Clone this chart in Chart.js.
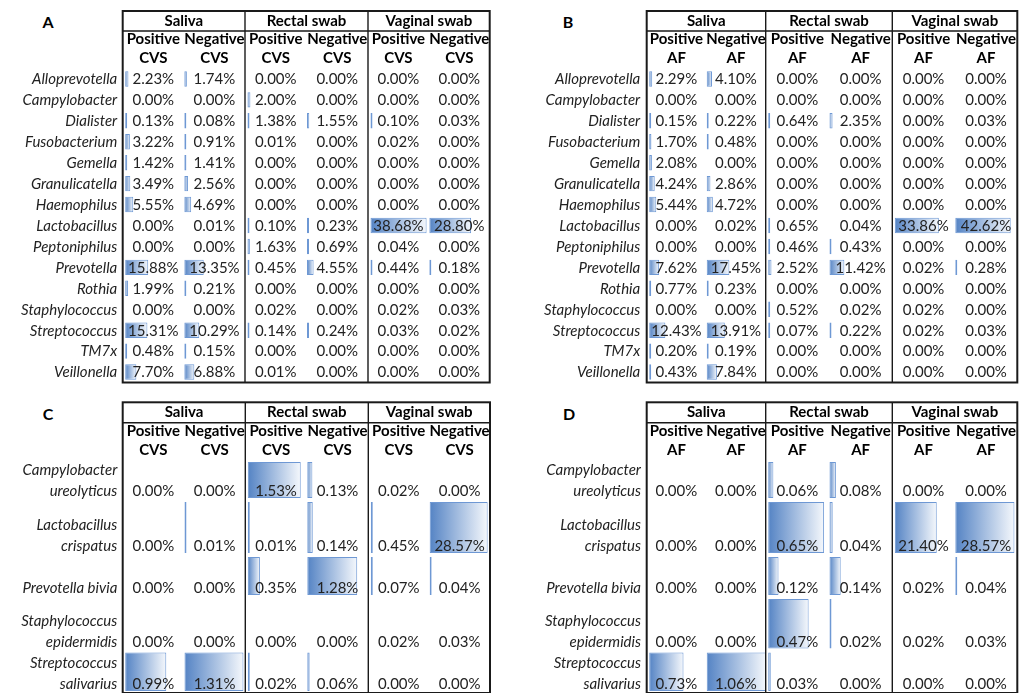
<!DOCTYPE html>
<html>
<head>
<meta charset="utf-8">
<script src="https://cdn.jsdelivr.net/npm/chart.js@4"></script>
<style>
  html, body { margin: 0; padding: 0; background: #fff; }
  body { width: 1021px; height: 693px; position: relative; overflow: hidden; }
  canvas { position: absolute; }
  .tag { position: absolute; font: bold 16px Lato, sans-serif; color: #000; transform: translate(-50%, -50%); }
</style>
</head>
<body>
<div class="tag" style="left:48px;top:21px">A</div>
<div class="tag" style="left:568px;top:21px">B</div>
<div class="tag" style="left:48px;top:413px">C</div>
<div class="tag" style="left:569px;top:413px">D</div>
<canvas id="chartA" width="492" height="386" style="left:0;top:0"></canvas>
<canvas id="chartB" width="521" height="386" style="left:500px;top:0"></canvas>
<canvas id="chartC" width="492" height="303" style="left:0;top:390px"></canvas>
<canvas id="chartD" width="521" height="303" style="left:500px;top:390px"></canvas>
<script>
const groups = ['Saliva', 'Rectal swab', 'Vaginal swab'];
const subgroups = ['Positive', 'Negative'];

const genera = ['Alloprevotella', 'Campylobacter', 'Dialister', 'Fusobacterium', 'Gemella',
  'Granulicatella', 'Haemophilus', 'Lactobacillus', 'Peptoniphilus', 'Prevotella', 'Rothia',
  'Staphylococcus', 'Streptococcus', 'TM7x', 'Veillonella'];
const species = [['Campylobacter', 'ureolyticus'], ['Lactobacillus', 'crispatus'], 'Prevotella bivia',
  ['Staphylococcus', 'epidermidis'], ['Streptococcus', 'salivarius']];

// A - genera, CVS (%)
const salivaPosA  = [2.23, 0.00, 0.13, 3.22, 1.42, 3.49, 5.55, 0.00, 0.00, 15.88, 1.99, 0.00, 15.31, 0.48, 7.70];
const salivaNegA  = [1.74, 0.00, 0.08, 0.91, 1.41, 2.56, 4.69, 0.01, 0.00, 13.35, 0.21, 0.00, 10.29, 0.15, 6.88];
const rectalPosA  = [0.00, 2.00, 1.38, 0.01, 0.00, 0.00, 0.00, 0.10, 1.63, 0.45, 0.00, 0.02, 0.14, 0.00, 0.01];
const rectalNegA  = [0.00, 0.00, 1.55, 0.00, 0.00, 0.00, 0.00, 0.23, 0.69, 4.55, 0.00, 0.00, 0.24, 0.00, 0.00];
const vaginalPosA = [0.00, 0.00, 0.10, 0.02, 0.00, 0.00, 0.00, 38.68, 0.04, 0.44, 0.00, 0.02, 0.03, 0.00, 0.00];
const vaginalNegA = [0.00, 0.00, 0.03, 0.00, 0.00, 0.00, 0.00, 28.80, 0.00, 0.18, 0.00, 0.03, 0.02, 0.00, 0.00];

// B - genera, AF (%)
const salivaPosB  = [2.29, 0.00, 0.15, 1.70, 2.08, 4.24, 5.44, 0.00, 0.00, 7.62, 0.77, 0.00, 12.43, 0.20, 0.43];
const salivaNegB  = [4.10, 0.00, 0.22, 0.48, 0.00, 2.86, 4.72, 0.02, 0.00, 17.45, 0.23, 0.00, 13.91, 0.19, 7.84];
const rectalPosB  = [0.00, 0.00, 0.64, 0.00, 0.00, 0.00, 0.00, 0.65, 0.46, 2.52, 0.00, 0.52, 0.07, 0.00, 0.00];
const rectalNegB  = [0.00, 0.00, 2.35, 0.00, 0.00, 0.00, 0.00, 0.04, 0.43, 11.42, 0.00, 0.02, 0.22, 0.00, 0.00];
const vaginalPosB = [0.00, 0.00, 0.00, 0.00, 0.00, 0.00, 0.00, 33.86, 0.00, 0.02, 0.00, 0.02, 0.02, 0.00, 0.00];
const vaginalNegB = [0.00, 0.00, 0.03, 0.00, 0.00, 0.00, 0.00, 42.62, 0.00, 0.28, 0.00, 0.00, 0.03, 0.00, 0.00];

// C - species, CVS (%)
const salivaPosC  = [0.00, 0.00, 0.00, 0.00, 0.99];
const salivaNegC  = [0.00, 0.01, 0.00, 0.00, 1.31];
const rectalPosC  = [1.53, 0.01, 0.35, 0.00, 0.02];
const rectalNegC  = [0.13, 0.14, 1.28, 0.00, 0.06];
const vaginalPosC = [0.02, 0.45, 0.07, 0.02, 0.00];
const vaginalNegC = [0.00, 28.57, 0.04, 0.03, 0.00];

// D - species, AF (%)
const salivaPosD  = [0.00, 0.00, 0.00, 0.00, 0.73];
const salivaNegD  = [0.00, 0.00, 0.00, 0.00, 1.06];
const rectalPosD  = [0.06, 0.65, 0.12, 0.47, 0.03];
const rectalNegD  = [0.08, 0.04, 0.14, 0.02, 0.00];
const vaginalPosD = [0.00, 21.40, 0.02, 0.02, 0.00];
const vaginalNegD = [0.00, 28.57, 0.04, 0.03, 0.00];

Chart.defaults.font.family = 'Lato, sans-serif';
Chart.defaults.color = '#222';

const barBlue = 'rgb(96,140,200)';

// excel-like gradient data bar, from the axis zero to the bar end
function barFill(ctx) {
  const v = ctx.parsed ? ctx.parsed.x : null;
  if (v == null) return barBlue;
  const xs = ctx.chart.scales[ctx.dataset.xAxisID];
  const x0 = xs.getPixelForValue(0);
  const x1 = Math.max(xs.getPixelForValue(v), x0 + 2);
  if (!isFinite(x0) || !isFinite(x1)) return barBlue;
  const g = ctx.chart.ctx.createLinearGradient(x0, 0, x1, 0);
  g.addColorStop(0, 'rgb(84,131,196)');
  g.addColorStop(1, 'rgb(245,248,252)');
  return g;
}

const tablePlugin = {
  id: 'table',
  afterDatasetsDraw(chart, args, opts) {
    const { ctx, scales, chartArea } = chart;
    ctx.save();
    ctx.fillStyle = '#222';
    ctx.textBaseline = 'middle';
    // cell values
    ctx.font = '15px Lato, sans-serif';
    ctx.textAlign = 'center';
    chart.data.datasets.forEach(ds => {
      const xs = scales[ds.xAxisID];
      const ys = scales[ds.yAxisID];
      const x = (xs.left + xs.right) / 2;
      const y = opts.textBottom ? ys.bottom - opts.textBottom : (ys.top + ys.bottom) / 2 + 0.5;
      ctx.fillText(ds.pct.toFixed(2) + '%', x, y);
    });
    // row names
    ctx.font = 'italic 15px Lato, sans-serif';
    ctx.textAlign = 'right';
    Object.values(scales).filter(s => s.axis === 'y').forEach(s => {
      const name = s.getLabels()[0];
      const lines = Array.isArray(name) ? name : [name];
      const yLast = opts.textBottom ? s.bottom - opts.textBottom : (s.top + s.bottom) / 2 + 0.5;
      lines.forEach((t, i) => {
        ctx.fillText(t, chartArea.left - opts.labelPad, yLast - (lines.length - 1 - i) * 21);
      });
    });
    ctx.restore();
  },
  afterDraw(chart) {
    const { ctx, scales, chartArea } = chart;
    const g = [scales.g0, scales.g1, scales.g2];
    const top = g[0].top, mid = g[0].bottom, bottom = chartArea.bottom;
    ctx.save();
    ctx.strokeStyle = '#1a1a1a';
    ctx.lineWidth = 1.4;
    ctx.beginPath();
    ctx.moveTo(chartArea.left, mid); ctx.lineTo(chartArea.right, mid);
    g.slice(1).forEach(s => { ctx.moveTo(s.left, top); ctx.lineTo(s.left, bottom); });
    ctx.stroke();
    ctx.lineWidth = 2;
    ctx.strokeRect(chartArea.left, top, chartArea.right - chartArea.left, bottom - top);
    ctx.restore();
  }
};

function drawPanel(id, rows, cols, tag, lay) {
  const scales = {};
  const datasets = [];

  lay.groupW.forEach((w, gi) => {
    scales['g' + gi] = {
      type: 'linear', axis: 'x', position: 'top', stack: 'groups', stackWeight: w, weight: 100 - gi,
      min: 0, max: 1,
      ticks: { display: false }, grid: { display: false, drawTicks: false }, border: { display: false },
      title: { display: true, text: groups[gi], color: '#000', padding: 0,
        font: { size: 15, weight: 'bold', lineHeight: '20px' } },
      afterFit: s => { s.height = lay.groupH; }
    };
  });

  cols.forEach((vals, c) => {
    const w = lay.groupW[c >> 1] / 2;
    const off = c % 2 ? 0.5 : 2.5;
    const k = lay.k[c];
    scales['c' + c] = {
      type: 'linear', axis: 'x', position: 'top', stack: 'cols', stackWeight: w, weight: 50 - c,
      min: -off / k, max: (w - off) / k,
      ticks: { display: false }, grid: { display: false, drawTicks: false }, border: { display: false },
      title: { display: true, text: [subgroups[c % 2], tag], color: '#000', padding: { top: -1.5, bottom: 0 },
        font: { size: 15, weight: 'bold', lineHeight: '19px' } },
      afterFit: s => { s.height = lay.colH; }
    };
  });

  rows.forEach((name, r) => {
    const h = lay.rowH[r];
    scales['r' + r] = {
      type: 'category', axis: 'y', position: 'left', labels: [name], offset: true,
      stack: 'rows', stackWeight: h, weight: 100 - r,
      grid: { display: false, drawTicks: false }, border: { display: false },
      ticks: { display: false },
      afterFit: s => { s.width = lay.axisW; s.paddingTop = 0; s.paddingBottom = 0; }
    };
    cols.forEach((vals, c) => {
      const v = vals[r];
      datasets.push({
        pct: v,
        data: [v * lay.k[c] >= 0.07 ? v : null],
        xAxisID: 'c' + c,
        yAxisID: 'r' + r,
        grouped: false,
        categoryPercentage: 1,
        barPercentage: (h - lay.inset) / h,
        minBarLength: 2,
        backgroundColor: barFill,
        borderColor: 'rgb(110,152,212)',
        borderWidth: 1,
        borderSkipped: false
      });
    });
  });

  new Chart(document.getElementById(id), {
    type: 'bar',
    data: { datasets },
    options: {
      indexAxis: 'y',
      responsive: false,
      animation: false,
      layout: { padding: lay.padding },
      scales,
      plugins: {
        legend: { display: false },
        tooltip: { enabled: false },
        table: { textBottom: lay.textBottom, labelPad: lay.labelPad }
      }
    },
    plugins: [tablePlugin]
  });
}

const rowsAB = genera.map(() => 20.93);

drawPanel('chartA', genera,
  [salivaPosA, salivaNegA, rectalPosA, rectalNegA, vaginalPosA, vaginalNegA], 'CVS', {
    groupW: [122.3, 123, 121.7], groupH: 20, colH: 37.5, axisW: 122.7, labelPad: 5.5,
    rowH: rowsAB, inset: 5.5, textBottom: 0,
    k: [1.45, 1.45, 1.45, 1.45, 1.45, 1.45],
    padding: { top: 11, left: 0, right: 2.3, bottom: 3.5 }
  });

drawPanel('chartB', genera,
  [salivaPosB, salivaNegB, rectalPosB, rectalNegB, vaginalPosB, vaginalNegB], 'AF', {
    groupW: [119, 126.6, 125], groupH: 20, colH: 37.5, axisW: 146.7, labelPad: 6.5,
    rowH: rowsAB, inset: 5.5, textBottom: 0,
    k: [1.3, 1.3, 1.3, 1.3, 1.3, 1.3],
    padding: { top: 11, left: 0, right: 3.7, bottom: 3.5 }
  });

drawPanel('chartC', species,
  [salivaPosC, salivaNegC, rectalPosC, rectalNegC, vaginalPosC, vaginalNegC], 'CVS', {
    groupW: [122.6, 123, 121.7], groupH: 20.4, colH: 37.3, axisW: 122.7, labelPad: 5.4,
    rowH: [40, 55, 42, 53.5, 42.5], inset: 4, textBottom: 8.5,
    k: [41.5, 45, 34.6, 39, 2.03, 2.03],
    padding: { top: 12.3, left: 0, right: 2, bottom: 0 }
  });

drawPanel('chartD', species,
  [salivaPosD, salivaNegD, rectalPosD, rectalNegD, vaginalPosD, vaginalNegD], 'AF', {
    groupW: [119, 126.6, 125], groupH: 20.4, colH: 37.3, axisW: 146.7, labelPad: 5.7,
    rowH: [40, 55, 42, 53.5, 42.5], inset: 4, textBottom: 8.5,
    k: [47, 56, 86, 80, 1.96, 2.07],
    padding: { top: 12.3, left: 0, right: 3.7, bottom: 0 }
  });
</script>
</body>
</html>
